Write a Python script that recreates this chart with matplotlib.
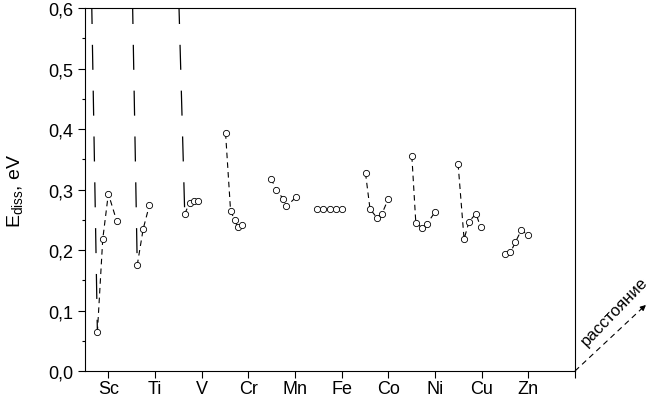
import numpy as np
import matplotlib.pyplot as plt
from matplotlib.ticker import MultipleLocator, FuncFormatter

plt.rcParams['font.family'] = ['Liberation Sans', 'DejaVu Sans']
plt.rcParams['lines.scale_dashes'] = False

elements = ["Sc", "Ti", "V", "Cr", "Mn", "Fe", "Co", "Ni", "Cu", "Zn"]

# point positions along x (grouped by element) and E_diss values, eV
sc_x = [0.625, 0.765, 0.880, 1.000, 1.179]
sc_e = [0.69, 0.064, 0.218, 0.293, 0.248]
ti_x = [1.500, 1.619, 1.747, 1.879]
ti_e = [0.69, 0.175, 0.235, 0.274]
v_x = [2.500, 2.637, 2.744, 2.829, 2.915]
v_e = [0.64, 0.260, 0.278, 0.281, 0.281]
cr_x = [3.512, 3.619, 3.704, 3.768, 3.854]
cr_e = [0.393, 0.265, 0.250, 0.238, 0.242]
mn_x = [4.483, 4.601, 4.740, 4.814, 5.017]
mn_e = [0.318, 0.300, 0.285, 0.272, 0.287]
fe_x = [5.476, 5.604, 5.743, 5.871, 6.010]
fe_e = [0.268, 0.268, 0.268, 0.268, 0.268]
co_x = [6.511, 6.607, 6.757, 6.864, 7.002]
co_e = [0.327, 0.268, 0.253, 0.260, 0.285]
ni_x = [7.504, 7.589, 7.717, 7.824, 7.995]
ni_e = [0.355, 0.245, 0.237, 0.243, 0.262]
cu_x = [8.495, 8.623, 8.730, 8.879, 8.976]
cu_e = [0.342, 0.218, 0.247, 0.260, 0.238]
zn_x = [9.510, 9.617, 9.723, 9.851, 10.001]
zn_e = [0.194, 0.196, 0.213, 0.233, 0.224]

groups = [(sc_x, sc_e), (ti_x, ti_e), (v_x, v_e), (cr_x, cr_e), (mn_x, mn_e),
          (fe_x, fe_e), (co_x, co_e), (ni_x, ni_e), (cu_x, cu_e), (zn_x, zn_e)]

fig = plt.figure(figsize=(6.5, 4.02), dpi=100)
ax = fig.add_axes([0.1308, 0.0746, 0.7538, 0.903])

ymax = 0.6
for gx, ge in groups:
    gx = np.array(gx)
    ge = np.array(ge)
    start = 0
    if ge[0] > ymax:
        # first point is above the plot: long dashes down to the next one
        ax.plot(gx[:2], ge[:2], color='k', lw=0.9, linestyle=(0, (18, 15)))
        start = 1
    ax.plot(gx[start:], ge[start:], color='k', lw=0.8, linestyle=(0, (4, 3)))
    ax.plot(gx[start:], ge[start:], linestyle='none', marker='o', ms=4.5,
            mfc='white', mec='k', mew=0.6, zorder=3)

ax.set_xlim(0.5, 11)
ax.set_ylim(0, 0.6)
ax.set_xticks(np.arange(1, 12))
ax.set_xticklabels(elements + [""])
ax.yaxis.set_major_locator(MultipleLocator(0.1))
ax.yaxis.set_minor_locator(MultipleLocator(0.05))
ax.yaxis.set_major_formatter(FuncFormatter(lambda v, p: f"{v:.1f}".replace('.', ',')))
ax.tick_params(axis='both', which='major', direction='out', length=5, width=0.8, labelsize=13)
ax.tick_params(axis='x', pad=1.5)
ax.tick_params(axis='y', which='minor', direction='out', length=2.5, width=0.8)
ax.tick_params(top=False, right=False)
for s in ax.spines.values():
    s.set_linewidth(0.8)

ax.set_ylabel(r'$\mathregular{E_{diss}}$, eV', fontsize=14)
ax.yaxis.set_label_coords(-0.122, 0.5)

# pseudo axis "distance" at the lower right corner
ax.plot([1.0, 1.145], [0.0, 0.183], transform=ax.transAxes, clip_on=False,
        color='k', lw=0.8, linestyle=(0, (4, 3)))
ax.annotate('', xy=(1.149, 0.187), xytext=(1.135, 0.170), xycoords='axes fraction',
            arrowprops=dict(arrowstyle='-|>', color='k', lw=0.8, mutation_scale=8))
ax.text(1.080, 0.165, 'расстояние', transform=ax.transAxes, rotation=46,
        rotation_mode='anchor', ha='center', va='center', fontsize=12)

fig.savefig('out.png', dpi=100)
